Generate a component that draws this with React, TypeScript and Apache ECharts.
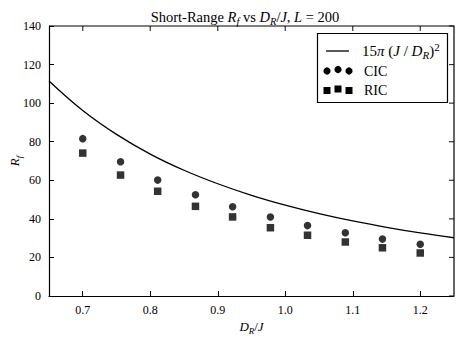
import React, { useEffect, useRef } from "react";
import * as echarts from "echarts";

const xValues = [0.7, 0.756, 0.811, 0.867, 0.922, 0.978, 1.033, 1.089, 1.144, 1.2];
const cicValues = [81.6, 69.6, 60.1, 52.5, 46.3, 41.0, 36.5, 32.8, 29.5, 26.8];
const ricValues = [74.1, 62.7, 54.3, 46.5, 41.0, 35.4, 31.5, 28.0, 25.0, 22.3];
const curveX = [0.65, 0.7, 0.75, 0.8, 0.85, 0.9, 0.95, 1.0, 1.05, 1.1, 1.15, 1.2, 1.25];
const curveY = [111.5, 96.2, 83.8, 73.6, 65.2, 58.2, 52.2, 47.1, 42.7, 38.9, 35.6, 32.7, 30.2];
const xTicks = [0.7, 0.8, 0.9, 1.0, 1.1, 1.2];
const yTicks = [0, 20, 40, 60, 80, 100, 120, 140];
const xRange = [0.65, 1.25];
const yRange = [0, 140];

const FONT = "Liberation Serif";
const GRID = { left: 49, right: 9, top: 26, bottom: 43 };
const W = 463;
const H = 339;

const rich = (size: number) => ({
  r: { fontFamily: FONT, fontSize: size, fontWeight: "normal", color: "#000", lineHeight: size + 4 },
  i: { fontFamily: FONT, fontSize: size, fontWeight: "normal", fontStyle: "italic", color: "#000", lineHeight: size + 4 },
  s: { fontFamily: FONT, fontSize: size - 4, fontWeight: "normal", fontStyle: "italic", color: "#000", lineHeight: size - 3, verticalAlign: "bottom" },
  p: { fontFamily: FONT, fontSize: size - 4, fontWeight: "normal", color: "#000", lineHeight: size - 3, verticalAlign: "top" },
});

export default function App() {
  const ref = useRef<HTMLDivElement>(null);
  useEffect(() => {
    if (!ref.current) return;
    const chart = echarts.init(ref.current, undefined, { renderer: "svg" });
    const axisCommon = {
      axisLine: { show: true, onZero: false, lineStyle: { color: "#000", width: 1.2 } },
      splitLine: { show: false },
    };
    chart.setOption({
      animation: false,
      backgroundColor: "#fff",
      title: {
        text: "{r|Short-Range }{i|R}{s|f}{r| vs }{i|D}{s|R}{r|/}{i|J}{r|, }{i|L}{r| = 200}",
        left: 240,
        textAlign: "center",
        top: 3,
        textStyle: { fontWeight: "normal", rich: rich(14.5) },
      },
      grid: { ...GRID, containLabel: false, outerBoundsMode: "none" },
      xAxis: {
        type: "value",
        min: xRange[0],
        max: xRange[1],
        position: "bottom",
        ...axisCommon,
        axisTick: { show: true, inside: true, length: 5, customValues: xTicks, lineStyle: { color: "#000" } },
        axisLabel: {
          customValues: xTicks,
          formatter: (v: number) => v.toFixed(1),
          fontFamily: FONT,
          fontSize: 12,
          color: "#000",
          margin: 8,
        },
        name: "{i|D}{s|R}{r|/}{i|J}",
        nameLocation: "middle",
        nameGap: 22,
        nameMoveOverlap: false,
        nameTextStyle: { rich: rich(13) },
      },
      yAxis: {
        type: "value",
        min: yRange[0],
        max: yRange[1],
        interval: 20,
        position: "left",
        ...axisCommon,
        axisTick: { show: true, inside: true, length: 5, lineStyle: { color: "#000" } },
        axisLabel: { fontFamily: FONT, fontSize: 12, color: "#000", margin: 8 },
        name: "{i|R}{s|f}",
        nameLocation: "middle",
        nameRotate: 90,
        nameGap: 26,
        nameMoveOverlap: false,
        nameTextStyle: { rich: rich(13) },
      },
      series: [
        {
          name: "topTicks",
          type: "scatter",
          data: xTicks.map((v) => [v, yRange[1]]),
          symbol: "rect",
          symbolSize: [1.2, 5],
          symbolOffset: [0, 2.5],
          silent: true,
          clip: false,
          itemStyle: { color: "#000" },
          z: 5,
        },
        {
          name: "rightTicks",
          type: "scatter",
          data: yTicks.map((v) => [xRange[1], v]),
          symbol: "rect",
          symbolSize: [5, 1.2],
          symbolOffset: [-2.5, 0],
          silent: true,
          clip: false,
          itemStyle: { color: "#000" },
          z: 5,
        },
        {
          name: "curve",
          type: "line",
          data: curveX.map((x, k) => [x, curveY[k]]),
          smooth: 0.4,
          showSymbol: false,
          lineStyle: { color: "#000", width: 1.3 },
          z: 2,
        },
        {
          name: "CIC",
          type: "scatter",
          data: xValues.map((x, k) => [x, cicValues[k]]),
          symbol: "circle",
          symbolSize: 7.5,
          itemStyle: { color: "#000" },
          z: 3,
        },
        {
          name: "RIC",
          type: "scatter",
          data: xValues.map((x, k) => [x, ricValues[k]]),
          symbol: "rect",
          symbolSize: 7.5,
          itemStyle: { color: "#000" },
          z: 3,
        },
      ],
      graphic: [
        {
          type: "group",
          z: 100,
          children: [
            {
              type: "polyline",
              shape: {
                points: [
                  [GRID.left, GRID.top],
                  [W - GRID.right, GRID.top],
                  [W - GRID.right, H - GRID.bottom],
                ],
              },
              style: { fill: null, stroke: "#000", lineWidth: 1.2 },
            },
            {
              type: "rect",
              shape: { x: 317.5, y: 33.5, width: 130, height: 69 },
              style: { fill: "#fff", stroke: "#000", lineWidth: 1.2 },
            },
            { type: "line", shape: { x1: 326, y1: 51, x2: 349, y2: 51 }, style: { stroke: "#000", lineWidth: 1.3 } },
            { type: "circle", shape: { cx: 327, cy: 71, r: 3.6 }, style: { fill: "#000" } },
            { type: "circle", shape: { cx: 338, cy: 69.5, r: 3.6 }, style: { fill: "#000" } },
            { type: "circle", shape: { cx: 349, cy: 71, r: 3.6 }, style: { fill: "#000" } },
            { type: "rect", shape: { x: 323.5, y: 87, width: 7, height: 7 }, style: { fill: "#000" } },
            { type: "rect", shape: { x: 334.5, y: 85.5, width: 7, height: 7 }, style: { fill: "#000" } },
            { type: "rect", shape: { x: 345.5, y: 87, width: 7, height: 7 }, style: { fill: "#000" } },
            {
              type: "text",
              x: 362,
              y: 51,
              style: {
                text: "{r|15}{i|π}{r| (}{i|J}{r| / }{i|D}{s|R}{r|)}{p|2}",
                verticalAlign: "middle",
                rich: rich(15),
              },
            },
            {
              type: "text",
              x: 364,
              y: 71,
              style: { text: "CIC", fontFamily: FONT, fontSize: 14, fill: "#000", verticalAlign: "middle" },
            },
            {
              type: "text",
              x: 364,
              y: 90,
              style: { text: "RIC", fontFamily: FONT, fontSize: 14, fill: "#000", verticalAlign: "middle" },
            },
          ],
        },
      ],
    });
    return () => chart.dispose();
  }, []);
  return <div ref={ref} style={{ width: 463, height: 339, position: "absolute", left: 0, top: 0 }} />;
}
